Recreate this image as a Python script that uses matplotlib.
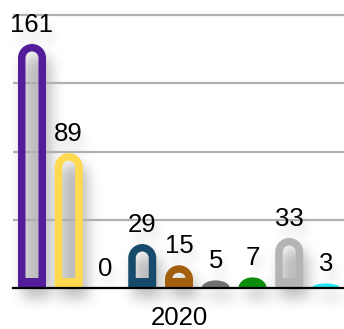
import numpy as np
import matplotlib
matplotlib.use('Agg')
import matplotlib.pyplot as plt
from matplotlib.path import Path
from matplotlib.patches import PathPatch

values = [161, 89, 0, 29, 15, 5, 7, 33, 3]
colors = ['#541b9a', '#ffd94f', '#e03030', '#174b6b', '#a45f0c',
          '#707070', '#0c8c0c', '#b4b4b4', '#22e6f0']
category = '2020'
grid_values = [45, 90, 135, 180]

K = 0.5523  # bezier constant for quarter ellipse


def blur(a, sigma):
    r = int(3 * sigma) + 1
    k = np.exp(-0.5 * (np.arange(-r, r + 1) / sigma) ** 2)
    k /= k.sum()
    a = np.apply_along_axis(lambda v: np.convolve(v, k, mode='same'), 0, a)
    a = np.apply_along_axis(lambda v: np.convolve(v, k, mode='same'), 1, a)
    return a


class Shadow:
    def __init__(self, sigma, alpha, dx, dy):
        self.sigma, self.alpha, self.dx, self.dy = sigma, alpha, dx, dy

    def __call__(self, im, dpi):
        pad = int(3 * self.sigma + max(abs(self.dx), abs(self.dy))) + 2
        a = np.pad(im[:, :, 3], pad)
        a = blur(a, self.sigma) * self.alpha
        a = np.roll(a, self.dx, axis=1)
        a = np.roll(a, self.dy, axis=0)
        out = np.zeros(a.shape + (4,))
        out[..., 3] = np.clip(a, 0, 1)
        return out, -pad, -pad


def dome(xc, rx, y0, y1, ry):
    ys = y1 - ry
    verts = [(xc - rx, y0), (xc - rx, ys),
             (xc - rx, ys + K * ry), (xc - K * rx, y1), (xc, y1),
             (xc + K * rx, y1), (xc + rx, ys + K * ry), (xc + rx, ys),
             (xc + rx, y0), (xc - rx, y0)]
    codes = [Path.MOVETO, Path.LINETO,
             Path.CURVE4, Path.CURVE4, Path.CURVE4,
             Path.CURVE4, Path.CURVE4, Path.CURVE4,
             Path.LINETO, Path.CLOSEPOLY]
    return verts, codes


fig = plt.figure(figsize=(3.44, 3.29), dpi=100)
ax = fig.add_axes([13 / 344, 41 / 329, 331 / 344, 288 / 329])
ax.set_xlim(-0.517, 8.49)
ax.set_ylim(0, 190)

# pixel -> data scale
sx = ax.transData.transform((1, 0))[0] - ax.transData.transform((0, 0))[0]
sy = ax.transData.transform((0, 1))[1] - ax.transData.transform((0, 0))[1]

W = 28.0   # outer bar width, px
t = 7.5    # side/top outline, px
tb = 10.0  # bottom outline, px

for i, (v, c) in enumerate(zip(values, colors)):
    if v > 0:
        rx = W / 2 / sx
        ry = min(W / 2 / sy, v)
        verts, codes = dome(i, rx, 0, v, ry)
        shadow = PathPatch(Path(verts, codes), fc='k', ec='none',
                           zorder=1, clip_on=False)
        shadow.set_agg_filter(Shadow(7, 0.27, 5, 10))
        ax.add_patch(shadow)
        top_in = v - t / sy
        bot_in = tb / sy
        if top_in - bot_in > 0:
            irx = (W / 2 - t) / sx
            iry = min((W / 2 - t) / sy, top_in - bot_in)
            hv, hc = dome(i, -irx, bot_in, top_in, iry)
            verts = verts + hv
            codes = codes + hc
        ax.add_patch(PathPatch(Path(verts, codes), fc=c, ec='none', zorder=3))

    for sh in (True, False):
        txt = ax.annotate(str(v), (i, v), xytext=(0, 7), textcoords='offset pixels',
                          ha='center', va='bottom', fontsize=18.5,
                          family='Liberation Sans', color='black',
                          zorder=4, annotation_clip=False)
        if sh:
            txt.set_zorder(1.5)
            txt.set_agg_filter(Shadow(3, 0.4, 2, 5))

ax.set_yticks(grid_values)
ax.yaxis.grid(True, color='#b0b0b0', lw=1.6)
ax.tick_params(axis='y', left=False, labelleft=False)
ax.set_xticks([4])
ax.set_xticklabels([category], fontsize=18.5, family='Liberation Sans')
ax.tick_params(axis='x', length=0, pad=13)
for s in ('top', 'right', 'left'):
    ax.spines[s].set_visible(False)
ax.spines['bottom'].set_linewidth(1.6)
ax.spines['bottom'].set_zorder(3.5)
for g in ax.yaxis.get_gridlines():
    g.set_zorder(2)

fig.savefig('out.png', dpi=100)
